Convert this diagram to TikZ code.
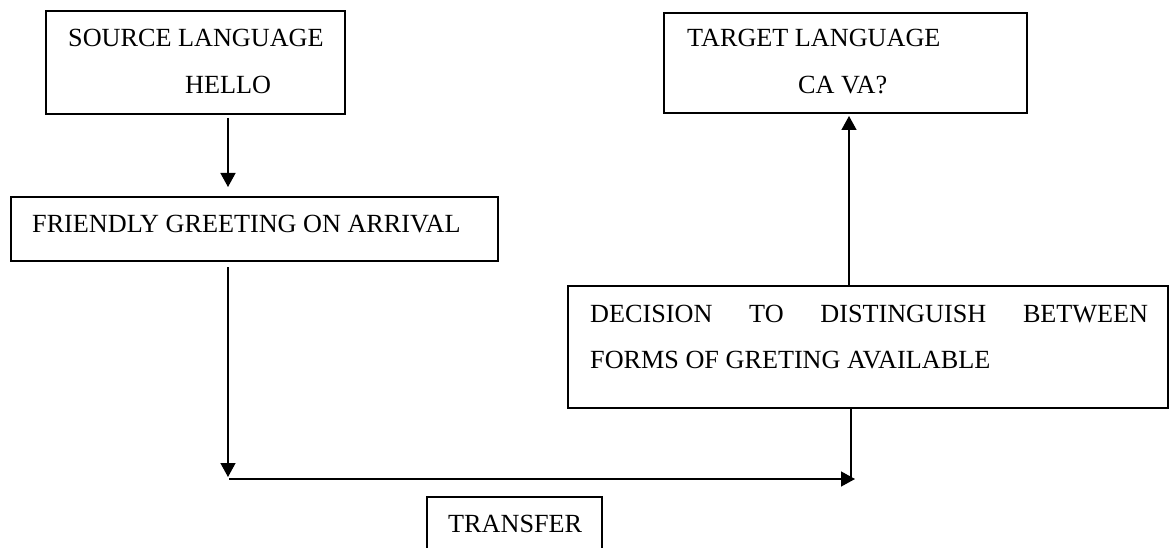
\documentclass[tikz,border=0pt]{standalone}
\usepackage{fontspec}
\setmainfont{Liberation Serif}
\usetikzlibrary{arrows.meta}
\begin{document}
\begin{tikzpicture}[x=1pt,y=-1pt,
  box/.style={draw,line width=1.4pt},
  lbl/.style={anchor=base west,inner sep=0pt,font=\fontsize{26.2}{30}\selectfont},
  conn/.style={line width=1.4pt},
  arr/.style={conn,-{Triangle[length=14pt,width=15pt]}}]
\clip (0,0) rectangle (1175,548);
\fill[white] (0,0) rectangle (1175,548);
% boxes
\draw[box] (46,11) rectangle (345,114);
\draw[box] (664,13) rectangle (1027,113);
\draw[box] (11,197) rectangle (498,261);
\draw[box] (568,286) rectangle (1168,408);
\draw[box] (427,560) -- (427,497) -- (602,497) -- (602,560);
% texts
\node[lbl] (t1) at (68,47) {SOURCE LANGUAGE};
\node[lbl] (t2) at (185,94) {HELLO};
\node[lbl] (t3) at (687,47) {TARGET LANGUAGE};
\node[lbl] (t4) at (798,94) {CA VA?};
\node[lbl] (t5) at (32,233) {FRIENDLY GREETING ON ARRIVAL};
\node[lbl] (t6) at (590,322) {\makebox[558pt][s]{DECISION\hfill TO\hfill DISTINGUISH\hfill BETWEEN}};
\node[lbl] (t7) at (590,368) {FORMS OF GRETING AVAILABLE};
\node[lbl] (t8) at (448,532) {TRANSFER};
% connector end points
\coordinate (a1s) at (228,118);
\coordinate (a1e) at (228,187);
\coordinate (a2s) at (228,267);
\coordinate (a2e) at (228,477);
\coordinate (h1) at (229,479);
\coordinate (h2) at (855,479);
\coordinate (decS) at (851,408);
\coordinate (decN) at (849,286);
\coordinate (a3e) at (849,116);
% connectors
\draw[arr] (a1s) -- (a1e);
\draw[arr] (a2s) -- (a2e);
\draw[arr] (h1) -- (h2);
\draw[conn] (decS) -- (decS |- h2);
\draw[arr] (decN) -- (a3e);
\end{tikzpicture}
\end{document}
